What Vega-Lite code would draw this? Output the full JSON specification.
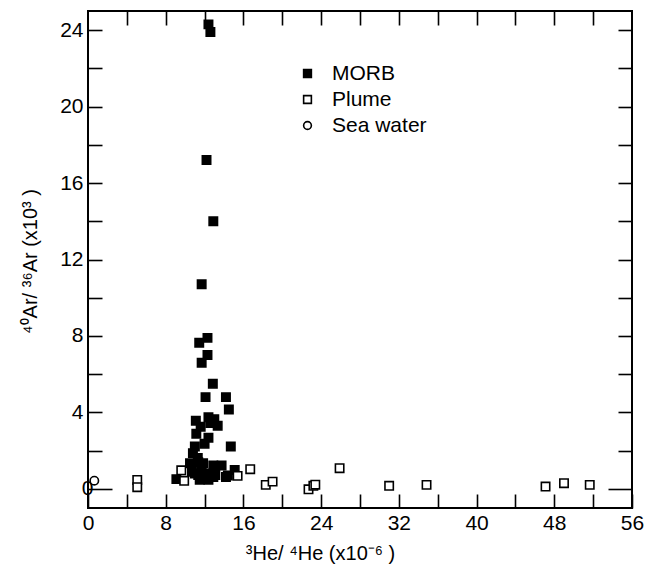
{
  "$schema": "https://vega.github.io/schema/vega-lite/v6.json",
  "width": 544,
  "height": 497,
  "autosize": {"type": "none"},
  "padding": {"left": 88, "top": 11, "right": 14, "bottom": 63},
  "background": "white",
  "config": {
    "view": {"stroke": "black", "strokeWidth": 2},
    "font": "Liberation Sans",
    "axis": {
      "grid": false,
      "domain": false,
      "tickColor": "black",
      "tickWidth": 1.6,
      "labelFont": "Liberation Sans",
      "labelFontSize": 21,
      "labelColor": "black",
      "titleFont": "Liberation Sans",
      "titleFontSize": 20,
      "titleFontWeight": "normal",
      "titleColor": "black"
    }
  },
  "data": {
    "values": [
      {"he": 12.4, "ar": 24.3, "type": "MORB"},
      {"he": 12.6, "ar": 23.9, "type": "MORB"},
      {"he": 12.2, "ar": 17.2, "type": "MORB"},
      {"he": 12.9, "ar": 14.0, "type": "MORB"},
      {"he": 11.7, "ar": 10.7, "type": "MORB"},
      {"he": 12.3, "ar": 7.9, "type": "MORB"},
      {"he": 11.45, "ar": 7.65, "type": "MORB"},
      {"he": 12.3, "ar": 7.0, "type": "MORB"},
      {"he": 11.7, "ar": 6.6, "type": "MORB"},
      {"he": 12.85, "ar": 5.5, "type": "MORB"},
      {"he": 12.1, "ar": 4.8, "type": "MORB"},
      {"he": 14.2, "ar": 4.8, "type": "MORB"},
      {"he": 14.5, "ar": 4.15, "type": "MORB"},
      {"he": 11.1, "ar": 3.57, "type": "MORB"},
      {"he": 12.4, "ar": 3.75, "type": "MORB"},
      {"he": 13.0, "ar": 3.65, "type": "MORB"},
      {"he": 12.6, "ar": 3.45, "type": "MORB"},
      {"he": 13.35, "ar": 3.3, "type": "MORB"},
      {"he": 11.6, "ar": 3.25, "type": "MORB"},
      {"he": 11.15, "ar": 2.88, "type": "MORB"},
      {"he": 12.4, "ar": 2.68, "type": "MORB"},
      {"he": 12.0, "ar": 2.36, "type": "MORB"},
      {"he": 14.7, "ar": 2.22, "type": "MORB"},
      {"he": 11.0, "ar": 2.22, "type": "MORB"},
      {"he": 10.8, "ar": 1.87, "type": "MORB"},
      {"he": 11.3, "ar": 1.62, "type": "MORB"},
      {"he": 11.35, "ar": 1.4, "type": "MORB"},
      {"he": 10.5, "ar": 1.34, "type": "MORB"},
      {"he": 11.85, "ar": 1.34, "type": "MORB"},
      {"he": 12.9, "ar": 1.22, "type": "MORB"},
      {"he": 13.75, "ar": 1.22, "type": "MORB"},
      {"he": 15.1, "ar": 0.99, "type": "MORB"},
      {"he": 10.7, "ar": 0.9, "type": "MORB"},
      {"he": 11.7, "ar": 0.95, "type": "MORB"},
      {"he": 11.35, "ar": 0.73, "type": "MORB"},
      {"he": 12.3, "ar": 0.8, "type": "MORB"},
      {"he": 13.1, "ar": 0.73, "type": "MORB"},
      {"he": 9.1, "ar": 0.51, "type": "MORB"},
      {"he": 11.5, "ar": 0.48, "type": "MORB"},
      {"he": 12.4, "ar": 0.48, "type": "MORB"},
      {"he": 14.4, "ar": 0.7, "type": "MORB"},
      {"he": 12.9, "ar": 0.62, "type": "MORB"},
      {"he": 11.0, "ar": 0.8, "type": "MORB"},
      {"he": 12.0, "ar": 0.6, "type": "MORB"},
      {"he": 14.2, "ar": 0.62, "type": "MORB"},
      {"he": 5.07, "ar": 0.47, "type": "Plume"},
      {"he": 5.07, "ar": 0.09, "type": "Plume"},
      {"he": 9.6, "ar": 0.97, "type": "Plume"},
      {"he": 9.9, "ar": 0.42, "type": "Plume"},
      {"he": 15.4, "ar": 0.68, "type": "Plume"},
      {"he": 16.7, "ar": 1.03, "type": "Plume"},
      {"he": 18.3, "ar": 0.21, "type": "Plume"},
      {"he": 19.0, "ar": 0.38, "type": "Plume"},
      {"he": 22.7, "ar": -0.02, "type": "Plume"},
      {"he": 23.2, "ar": 0.16, "type": "Plume"},
      {"he": 23.4, "ar": 0.22, "type": "Plume"},
      {"he": 25.9, "ar": 1.08, "type": "Plume"},
      {"he": 31.0, "ar": 0.16, "type": "Plume"},
      {"he": 34.85, "ar": 0.21, "type": "Plume"},
      {"he": 47.1, "ar": 0.12, "type": "Plume"},
      {"he": 49.0, "ar": 0.3, "type": "Plume"},
      {"he": 51.65, "ar": 0.21, "type": "Plume"},
      {"he": 0.65, "ar": 0.43, "type": "Sea water"}
    ]
  },
  "resolve": {"axis": {"x": "independent", "y": "independent"}},
  "layer": [
    {
      "mark": {"type": "point", "filled": false, "strokeWidth": 1.6, "size": 70, "opacity": 1},
      "encoding": {
        "x": {
          "field": "he", "type": "quantitative",
          "scale": {"domain": [0, 56], "nice": false, "zero": false},
          "axis": {
            "orient": "bottom",
            "values": [0, 4, 8, 12, 16, 20, 24, 28, 32, 36, 40, 44, 48, 52, 56],
            "labelExpr": "datum.value % 8 === 0 ? datum.label : ''",
            "tickSize": -14,
            "labelPadding": 18,
            "labelFlush": false,
            "labelOverlap": false,
            "title": "³He/ ⁴He (x10⁻⁶ )",
            "titleX": 232,
            "titleY": 45,
            "titleAlign": "center",
            "titleBaseline": "middle"
          }
        },
        "y": {
          "field": "ar", "type": "quantitative",
          "scale": {"domain": [-1, 25], "nice": false, "zero": false},
          "axis": {
            "orient": "left",
            "values": [0, 2, 4, 6, 8, 10, 12, 14, 16, 18, 20, 22, 24],
            "labelExpr": "datum.value % 4 === 0 ? datum.label : ''",
            "tickSize": {"condition": {"test": "datum.value === 0", "value": -24}, "value": -14},
            "labelPadding": 19,
            "labelFlush": false,
            "labelOverlap": false,
            "title": "⁴⁰Ar/ ³⁶Ar (x10³ )",
            "titleX": -58,
            "titleY": 250,
            "titleAlign": "center",
            "titleBaseline": "middle"
          }
        },
        "shape": {
          "field": "type", "type": "nominal",
          "scale": {"domain": ["MORB", "Plume", "Sea water"], "range": ["square", "square", "circle"]},
          "legend": {
            "title": null,
            "orient": "none",
            "legendX": 209,
            "legendY": 52,
            "padding": 0,
            "labelFont": "Liberation Sans",
            "labelFontSize": 21,
            "labelColor": "black",
            "labelOffset": 14,
            "rowPadding": 4,
            "symbolSize": 60,
            "symbolStrokeWidth": 1.6,
            "encode": {
              "symbols": {
                "update": {
                  "size": {"signal": "datum.value === 'Sea water' ? 100 : 45"}
                }
              }
            }
          }
        },
        "fill": {
          "field": "type", "type": "nominal",
          "scale": {"domain": ["MORB", "Plume", "Sea water"], "range": ["black", "white", "white"]},
          "legend": null
        },
        "stroke": {
          "field": "type", "type": "nominal",
          "scale": {"domain": ["MORB", "Plume", "Sea water"], "range": ["black", "black", "black"]},
          "legend": null
        }
      }
    },
    {
      "mark": {"type": "point", "opacity": 0},
      "encoding": {
        "x": {
          "field": "he", "type": "quantitative",
          "axis": {
            "orient": "top",
            "values": [4, 8, 12, 16, 20, 24, 28, 32, 36, 40, 44, 48, 52],
            "labels": false,
            "tickSize": -14,
            "title": null
          }
        },
        "y": {
          "field": "ar", "type": "quantitative",
          "axis": {
            "orient": "right",
            "values": [0, 2, 4, 6, 8, 10, 12, 14, 16, 18, 20, 22, 24],
            "labels": false,
            "tickSize": {"condition": {"test": "datum.value === 0", "value": -24}, "value": -14},
            "title": null
          }
        }
      }
    }
  ]
}
